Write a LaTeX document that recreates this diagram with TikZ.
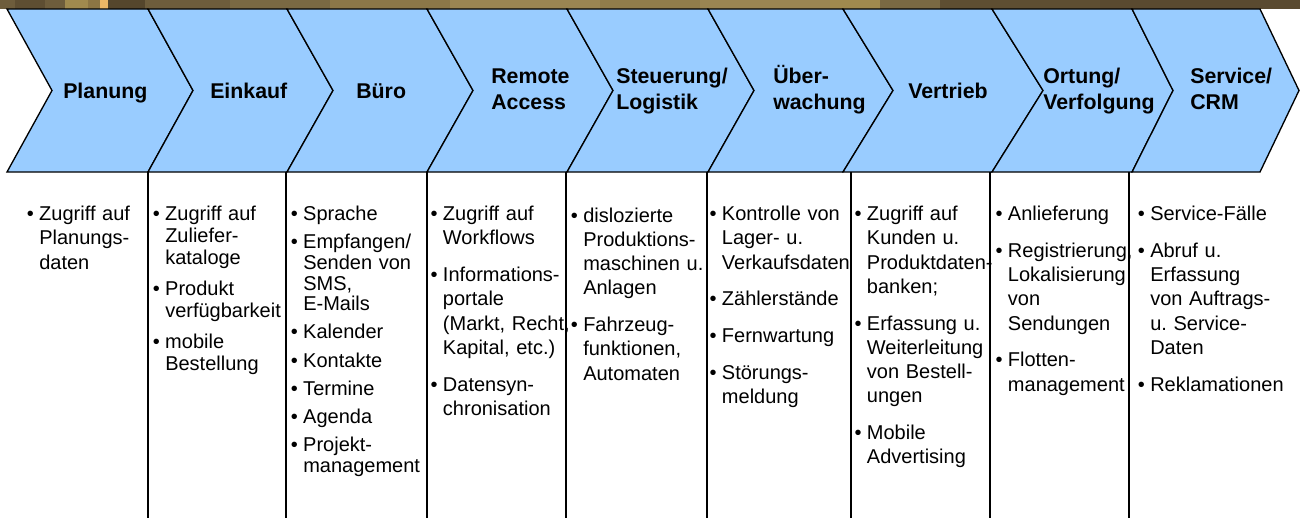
\documentclass[tikz,border=0pt]{standalone}
\usepackage{fontspec}
\setmainfont{Liberation Sans}
\definecolor{chevblue}{HTML}{99CCFF}
\definecolor{sa}{HTML}{6E5D3C}
\definecolor{sb}{HTML}{5E4E32}
\definecolor{sc}{HTML}{A08A4E}
\definecolor{sd}{HTML}{8C7644}
\definecolor{se}{HTML}{EDB866}
\definecolor{sf}{HTML}{55462C}
\definecolor{sg}{HTML}{7A6943}
\definecolor{sh}{HTML}{8B7748}
\definecolor{si}{HTML}{9A8552}
\definecolor{sj}{HTML}{917D4B}
\definecolor{sk}{HTML}{5A4A30}
\newlength{\itemgap}
\newcommand{\bul}[1]{\parskip=\itemgap\noindent\hangindent=9.3pt\hangafter=1\makebox[9.3pt][l]{\textbullet}#1\par}
\tikzset{
	chev/.style={fill = chevblue, draw = black, line width = 1pt},
	colline/.style={draw = black, line width = 1.2pt},
	head/.style={font = \fontsize{16pt}{20pt}\selectfont\bfseries, text width = 130pt, align = left, inner sep = 0pt, anchor = base west},
	list/.style 2 args={font = \fontsize{15pt}{#1}\selectfont\frenchspacing\setlength{\itemgap}{#2}, text width = 150pt, align = left, inner sep = 0pt, anchor = base west},
}
\begin{document}
\begin{tikzpicture}[x=0.75pt,y=-0.75pt]
	\useasboundingbox (0,0) rectangle (1300,518);
	% textured strip on top
	\foreach \xa/\xb/\col in {0/15/sa, 15/45/sb, 45/65/sa, 65/88/sc, 88/100/sd, 100/108/se, 108/145/sf, 145/230/sa, 230/330/sg, 330/450/sh, 450/600/si, 600/700/sj, 700/830/si, 830/880/sc, 880/940/sg, 940/1100/sb, 1100/1300/sk}
		\fill [\col] (\xa,0) rectangle (\xb,8.5);
	% chevrons
	\foreach \xl/\dl/\xr/\dr in {7/45/148/45, 148/45/287/46, 287/46/427/46, 427/46/567/46, 567/46/708/46, 708/46/843/50, 843/50/992/51, 992/51/1132/41, 1132/41/1260/39}
		\draw [chev] (\xl,9) -- (\xr,9) -- ({\xr+\dr},90.5) -- (\xr,172) -- (\xl,172) -- ({\xl+\dl},90.5) -- cycle;
	% column rules
	\foreach \x in {148,286,427,566,707,851,990,1129}
		\draw [colline] (\x,172) -- (\x,518);
	% headings
	\node (planung) at (63,98) [head] {Planung};
	\node (einkauf) at (210,98) [head] {Einkauf};
	\node (buero) at (356,98) [head] {Büro};
	\node (remote) at (491,83.3) [head] {Remote\\Access};
	\node (steuerung) at (616,83.3) [head] {Steuerung/\\Logistik};
	\node (ueberw) at (773,83.3) [head] {Über-\\wachung};
	\node (vertrieb) at (908,98) [head] {Vertrieb};
	\node (ortung) at (1043,83.3) [head] {Ortung/\\Verfolgung};
	\node (service) at (1190,83.3) [head] {Service/\\CRM};
	% bullet lists
	\node (planungtxt) at (26.6,220.7) [list={18.2pt}{9.3pt}] {\bul{Zugriff auf\newline Planungs-\newline daten}};
	\node (einkauftxt) at (152.6,220.7) [list={16.5pt}{6.5pt}] {\bul{Zugriff auf\newline Zuliefer-\newline kataloge}\bul{Produkt\newline verfügbarkeit}\bul{mobile\newline Bestellung}};
	\node (buerotxt) at (290.6,220.7) [list={15.4pt}{5.8pt}] {\bul{Sprache}\bul{Empfangen/\newline Senden von\newline SMS,\newline E-Mails}\bul{Kalender}\bul{Kontakte}\bul{Termine}\bul{Agenda}\bul{Projekt-\newline management}};
	\node (remotetxt) at (430.3,220.7) [list={18.2pt}{9.3pt}] {\bul{Zugriff auf\newline Workflows}\bul{Informations-\newline portale\newline (Markt, Recht,\newline Kapital, etc.)}\bul{Datensyn-\newline chronisation}};
	\node (steuerungtxt) at (570.6,222) [list={18.2pt}{9.3pt}] {\bul{dislozierte\newline Produktions-\newline maschinen u.\newline Anlagen}\bul{Fahrzeug-\newline funktionen,\newline Automaten}};
	\node (ueberwtxt) at (709.3,220.7) [list={18.2pt}{9.3pt}] {\bul{Kontrolle von\newline Lager- u.\newline Verkaufsdaten}\bul{Zählerstände}\bul{Fernwartung}\bul{Störungs-\newline meldung}};
	\node (vertriebtxt) at (854.3,220.7) [list={18.2pt}{9.3pt}] {\bul{Zugriff auf\newline Kunden u.\newline Produktdaten-\newline banken;}\bul{Erfassung u.\newline Weiterleitung\newline von Bestell-\newline ungen}\bul{Mobile\newline Advertising}};
	\node (ortungtxt) at (995.3,220.7) [list={18.2pt}{9.3pt}] {\bul{Anlieferung}\bul{Registrierung,\newline Lokalisierung\newline von\newline Sendungen}\bul{Flotten-\newline management}};
	\node (servicetxt) at (1137.6,220.7) [list={18.2pt}{9.3pt}] {\bul{Service-Fälle}\bul{Abruf u.\newline Erfassung\newline von Auftrags-\newline u. Service-\newline Daten}\bul{Reklamationen}};
\end{tikzpicture}
\end{document}
